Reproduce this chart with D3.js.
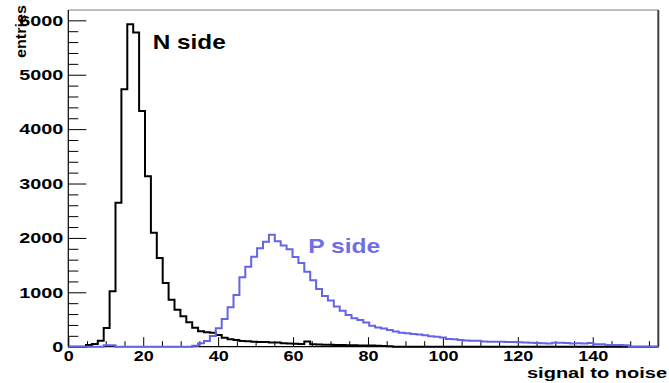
<!DOCTYPE html>
<html>
<head>
<meta charset="utf-8">
<script src="https://cdn.jsdelivr.net/npm/d3@7"></script>
<style>
  html, body { margin: 0; padding: 0; background: #fff; }
  svg { display: block; }
  text { font-family: "Liberation Sans", Arial, Helvetica, sans-serif; font-weight: bold; }
</style>
</head>
<body>
<script>
// ---- data ----
const xMin = 0, xMax = 157.5, nBins = 100;
const yMax = 6190;
const xMajorTicks = [0, 20, 40, 60, 80, 100, 120, 140];
const yMajorTicks = [0, 1000, 2000, 3000, 4000, 5000, 6000];
const xMinorStep = 5, yMinorStep = 200;

const nSide = [
  0, 0, 0, 30, 50, 110, 344, 1018, 2646, 4733,
  5930, 5775, 4331, 3134, 2093, 1632, 1172, 862, 678, 560,
  450, 350, 285, 265, 255, 215, 165, 135, 122, 105,
  98, 92, 85, 88, 75, 78, 65, 60, 55, 50,
  95, 45, 40, 38, 35, 32, 30, 28, 25, 24,
  22, 20, 16, 12, 10, 0, 0, 0, 0, 0,
  0, 0, 0, 0, 0, 0, 0, 0, 0, 0,
  0, 0, 0, 0, 0, 0, 0, 0, 0, 0,
  0, 0, 0, 0, 0, 0, 0, 0, 0, 0,
  0, 0, 0, 0, 0, 0, 0, 0, 0, 0
];
const pSide = [
  0, 0, 0, 0, 0, 0, 25, 25, 0, 0,
  0, 0, 0, 0, 0, 0, 0, 0, 0, 0,
  0, 18, 62, 105, 197, 338, 510, 724, 950, 1275,
  1471, 1655, 1808, 1930, 2060, 1940, 1860, 1790, 1650, 1540,
  1380, 1220, 1060, 930, 850, 740, 660, 585, 525, 490,
  445, 385, 355, 335, 305, 280, 258, 245, 235, 225,
  212, 192, 182, 170, 140, 135, 125, 112, 110, 108,
  95, 92, 90, 92, 88, 85, 80, 78, 72, 70,
  62, 60, 74, 72, 70, 60, 62, 60, 68, 45,
  43, 32, 30, 30, 28, 0, 0, 0, 0, 0
];
const seriesNames = ["N side", "P side"];
const xTitle = "signal to noise";
const yTitle = "entries";

// ---- layout ----
const W = 669, H = 383;
const L = 68.3, R = 658.3, T = 10, B = 346.7;
const black = "#000", blue = "#6464e6", blueText = "#6e6ee6";

const svg = d3.select("body").append("svg").attr("width", W).attr("height", H);
svg.append("rect").attr("width", W).attr("height", H).attr("fill", "#fff");

const x = d3.scaleLinear().domain([xMin, xMax]).range([L, R]);
const y = d3.scaleLinear().domain([0, yMax]).range([B, T]);

const binW = (xMax - xMin) / nBins;
function stepPoints(vals) {
  const pts = vals.map((v, i) => [xMin + i * binW, v]);
  pts.push([xMax, vals[vals.length - 1]]);
  return pts;
}
const line = d3.line().x(d => x(d[0])).y(d => y(d[1])).curve(d3.curveStepAfter);

// frame
svg.append("line").attr("x1", L).attr("x2", R).attr("y1", T).attr("y2", T)
  .attr("stroke", "#808080").attr("stroke-width", 1.2);
svg.append("line").attr("x1", R).attr("x2", R).attr("y1", T).attr("y2", B)
  .attr("stroke", "#404040").attr("stroke-width", 2);
svg.append("line").attr("x1", L).attr("x2", L).attr("y1", T).attr("y2", B)
  .attr("stroke", "#000").attr("stroke-width", 1.2);
svg.append("line").attr("x1", L).attr("x2", R).attr("y1", B).attr("y2", B)
  .attr("stroke", "#000").attr("stroke-width", 1.2);

// minor ticks
const xMinor = d3.range(xMinorStep, xMax, xMinorStep).filter(v => xMajorTicks.indexOf(v) < 0);
const yMinor = d3.range(yMinorStep, yMax, yMinorStep).filter(v => yMajorTicks.indexOf(v) < 0);

const gxMinor = svg.append("g").attr("transform", `translate(0,${B})`)
  .call(d3.axisBottom(x).tickValues(xMinor).tickSize(-5.5).tickFormat(""));
const gyMinor = svg.append("g").attr("transform", `translate(${L},0)`)
  .call(d3.axisLeft(y).tickValues(yMinor).tickSize(-10).tickFormat(""));

const gx = svg.append("g").attr("transform", `translate(0,${B})`)
  .call(d3.axisBottom(x).tickValues(xMajorTicks).tickSize(-9.5).tickPadding(4).tickFormat(d3.format("d")));
const gy = svg.append("g").attr("transform", `translate(${L},0)`)
  .call(d3.axisLeft(y).tickValues(yMajorTicks).tickSize(-18).tickPadding(5).tickFormat(d3.format("d")));

[gx, gy, gxMinor, gyMinor].forEach(g => {
  g.select(".domain").remove();
  g.selectAll(".tick line").attr("stroke", "#000").attr("stroke-width", 1);
});
gx.selectAll(".tick text")
  .attr("fill", "#000").style("font-size", "14px")
  .attr("textLength", d => String(d).length * 10).attr("lengthAdjust", "spacingAndGlyphs");
gy.selectAll(".tick text")
  .attr("fill", "#000").style("font-size", "15px")
  .attr("textLength", d => String(d).length * 11).attr("lengthAdjust", "spacingAndGlyphs");

// histograms
svg.append("path").datum(stepPoints(nSide)).attr("d", line)
  .attr("fill", "none").attr("stroke", black).attr("stroke-width", 2).attr("stroke-linejoin", "miter");
svg.append("path").datum(stepPoints(pSide)).attr("d", line)
  .attr("fill", "none").attr("stroke", blue).attr("stroke-width", 2).attr("stroke-linejoin", "miter");

// labels
svg.append("text").attr("x", 152.7).attr("y", 49.3).attr("fill", "#000")
  .style("font-size", "21px").attr("textLength", 73).attr("lengthAdjust", "spacingAndGlyphs")
  .text(seriesNames[0]);
svg.append("text").attr("x", 308.3).attr("y", 253.3).attr("fill", blueText)
  .style("font-size", "21px").attr("textLength", 72).attr("lengthAdjust", "spacingAndGlyphs")
  .text(seriesNames[1]);

svg.append("text").attr("x", 667).attr("y", 377.5).attr("text-anchor", "end").attr("fill", "#000")
  .style("font-size", "14px").attr("textLength", 140).attr("lengthAdjust", "spacingAndGlyphs")
  .text(xTitle);
svg.append("text").attr("transform", "translate(25.5,5) rotate(-90)").attr("text-anchor", "end").attr("fill", "#000")
  .style("font-size", "15px").attr("textLength", 53).attr("lengthAdjust", "spacingAndGlyphs")
  .text(yTitle);
</script>
</body>
</html>
